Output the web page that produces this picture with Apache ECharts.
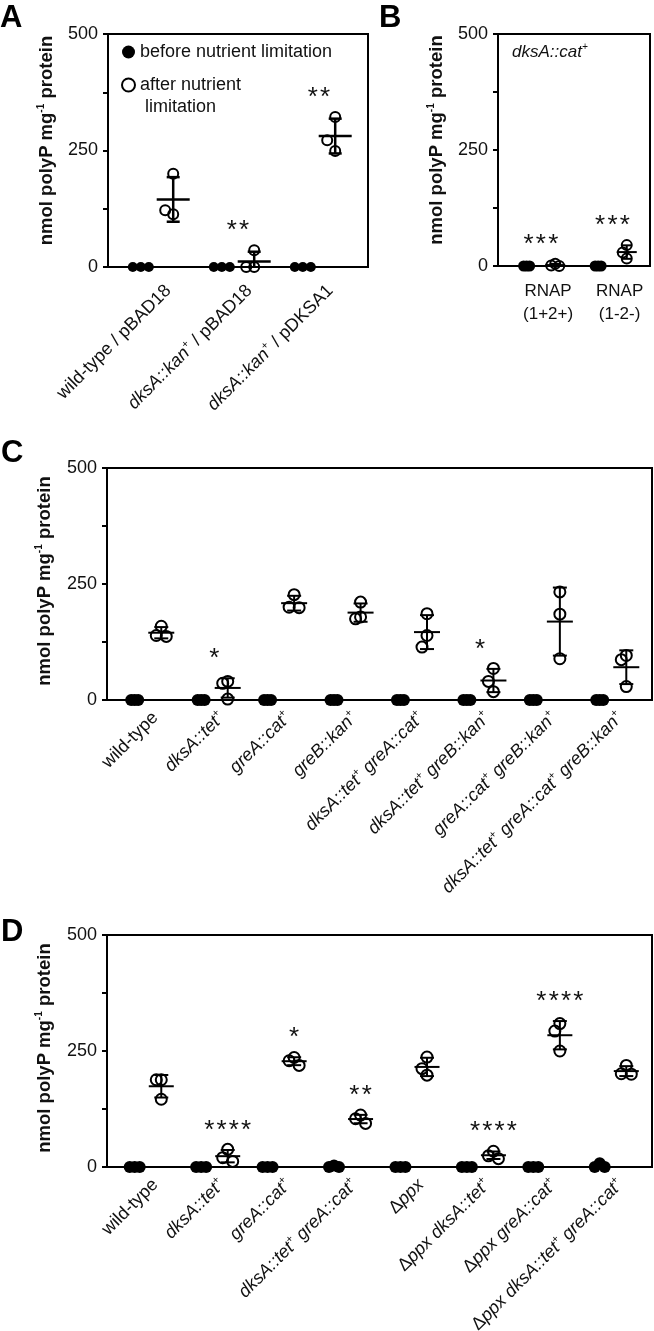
<!DOCTYPE html>
<html><head><meta charset="utf-8">
<script src="https://cdn.jsdelivr.net/npm/echarts@6/dist/echarts.min.js"></script>
<style>html,body{margin:0;padding:0;background:#fff}#c{width:654px;height:1331px}</style>
</head><body><div id="c"></div><script>
// ---------------- DATA ----------------
const yTickLabels = [0, 250, 500];

const aCategories = ['wild-type / pBAD18', 'dksA::kan+ / pBAD18', 'dksA::kan+ / pDKSA1'];
const aBefore = [[0, 0, 0], [0, 0, 0], [0, 0, 0]];
const aAfter  = [[200, 113, 122], [36, 0, 0], [322, 249, 272]];
const aSig    = ['', '**', '**'];

const bCategories = ['RNAP\n(1+2+)', 'RNAP\n(1-2-)'];
const bBefore = [[0, 0, 0], [0, 0, 0]];
const bAfter  = [[5, 1, 0], [45, 29, 16]];
const bSig    = ['***', '***'];

const cCategories = ['wild-type', 'dksA::tet+', 'greA::cat+', 'greB::kan+', 'dksA::tet+ greA::cat+',
  'dksA::tet+ greB::kan+', 'greA::cat+ greB::kan+', 'dksA::tet+ greA::cat+ greB::kan+'];
const cBefore = [[0,0,0],[0,0,0],[0,0,0],[0,0,0],[0,0,0],[0,0,0],[0,0,0],[0,0,0]];
const cAfter  = [[159, 139, 137], [40, 36, 2], [227, 200, 199], [211, 179, 175], [186, 139, 114],
  [68, 40, 18], [233, 185, 89], [96, 87, 29]];
const cSig    = ['', '*', '', '', '', '*', '', ''];

const dCategories = ['wild-type', 'dksA::tet+', 'greA::cat+', 'dksA::tet+ greA::cat+', 'Δppx',
  'Δppx dksA::tet+', 'Δppx greA::cat+', 'Δppx dksA::tet+ greA::cat+'];
const dBefore = [[0,0,0],[0,0,0],[0,0,0],[3,0,0],[0,0,0],[0,0,0],[0,0,0],[8,0,0]];
const dAfter  = [[188, 188, 146], [38, 20, 12], [236, 229, 219], [112, 104, 94], [237, 212, 198],
  [34, 24, 18], [309, 293, 250], [219, 201, 200]];
const dSig    = ['', '****', '*', '**', '', '****', '****', ''];

const seriesNames = ['before nutrient limitation', 'after nutrient limitation'];
const yTitle = 'nmol polyP mg{s|-1} protein';

// ---------------- LAYOUT ----------------
const FONT = 'Liberation Sans, Arial, Helvetica, sans-serif';
const INK = '#111';
const common = {labFont: 18, tickFont: 18, titleFont: 18.5, nameGap: 50, starFont: 26};
const panels = [
  Object.assign({}, common, {cats: aCategories, before: aBefore, after: aAfter, sig: aSig,
   grid: {left: 108, top: 34, width: 260, height: 233}, xmin: -0.605, xmax: 2.605, titleShift: 20,
   rotate: 45, labelShift: 0.14, labelMargin: 21,
   dot: 10, dotStep: 8, circ: 10, circStep: 8, meanW: 33, capW: 13, lw: 2.5, starShift: 0}),
  Object.assign({}, common, {cats: bCategories, before: bBefore, after: bAfter, sig: bSig,
   grid: {left: 498, top: 34, width: 152, height: 232}, xmin: -0.6, xmax: 1.525, titleShift: 20,
   rotate: 0, labelShift: 0.1, labelMargin: 14, labFont: 17,
   dot: 11, dotStep: 3, circ: 10, circStep: 4, meanW: 20, capW: 10, lw: 2, starShift: 0}),
  Object.assign({}, common, {cats: cCategories, before: cBefore, after: cAfter, sig: cSig,
   grid: {left: 107, top: 468, width: 545, height: 232}, xmin: -0.617, xmax: 7.587, titleShift: 6,
   rotate: 45, labelShift: 0.11, labelMargin: 15,
   dot: 12, dotStep: 3.5, circ: 11, circStep: 5, meanW: 26, capW: 14, lw: 2, starShift: 0}),
  Object.assign({}, common, {cats: dCategories, before: dBefore, after: dAfter, sig: dSig,
   grid: {left: 107, top: 935, width: 545, height: 232}, xmin: -0.617, xmax: 7.587, titleShift: 6,
   rotate: 45, labelShift: 0.11, labelMargin: 15,
   dot: 12, dotStep: 5, circ: 11, circStep: 5, meanW: 25, capW: 14, lw: 2, starShift: 0.2})
];
const SIDE = 0.2;

function jitter(vals, pxPerUnit, diam, step) {
  const placed = [];
  const order = [0, -1, 1, -2, 2];
  return vals.map(v => {
    const y = v * pxPerUnit;
    for (const k of order) {
      const ok = placed.every(p => p.k !== k || Math.abs(p.y - y) >= diam + 2);
      if (ok) { placed.push({k, y}); return k * step; }
    }
    return 0;
  });
}
function stats(vals) {
  const n = vals.length;
  const m = vals.reduce((a, b) => a + b, 0) / n;
  const sd = Math.sqrt(vals.reduce((a, b) => a + (b - m) * (b - m), 0) / (n - 1));
  return {m, sd};
}
function richLabel(s) {
  return s.split(' ').map(w => {
    if (w.includes('::')) {
      const plus = w.endsWith('+');
      const core = plus ? w.slice(0, -1) : w;
      return '{i|' + core + '}' + (plus ? '{s|+}' : '');
    }
    if (w.startsWith('Δ')) return '{n|Δ}{i|' + w.slice(1) + '}';
    return '{n|' + w + '}';
  }).join('{n| }');
}

const grids = [], xAxes = [], yAxes = [], series = [];
panels.forEach((P, gi) => {
  grids.push(Object.assign({show: true, borderColor: '#000', borderWidth: 2, containLabel: false,
    outerBoundsMode: 'none'}, P.grid));
  const F = P.labFont;
  xAxes.push({
    type: 'value', gridIndex: gi, min: P.xmin, max: P.xmax,
    axisLine: {show: false, onZero: false}, axisTick: {show: false}, splitLine: {show: false},
    axisLabel: {
      customValues: P.cats.map((_, k) => k + P.labelShift),
      formatter: v => {
        const s = P.cats[Math.round(v - P.labelShift)];
        return P.rotate ? richLabel(s) : s;
      },
      rotate: P.rotate, margin: P.labelMargin, color: INK, fontFamily: FONT, fontSize: F,
      lineHeight: P.rotate ? F * 1.2 : 23, align: P.rotate ? undefined : 'center',
      hideOverlap: false,
      rich: {
        n: {fontSize: F, fontStyle: 'normal', color: INK, fontFamily: FONT, lineHeight: F * 1.2},
        i: {fontSize: F, fontStyle: 'italic', color: INK, fontFamily: FONT, lineHeight: F * 1.2},
        s: {fontSize: F * 0.6, fontStyle: 'italic', color: INK, fontFamily: FONT, lineHeight: F * 0.6, verticalAlign: 'top'}
      }
    }
  });
  yAxes.push({
    type: 'value', gridIndex: gi, min: 0, max: 500, interval: 125,
    axisLine: {show: true, onZero: false, lineStyle: {color: '#000', width: 2}},
    axisTick: {show: true, length: 5, lineStyle: {color: '#000', width: 2}},
    splitLine: {show: false},
    axisLabel: {formatter: v => yTickLabels.includes(v) ? String(v) : '', color: INK, fontFamily: FONT,
      fontSize: P.tickFont, margin: 10, showMinLabel: true, showMaxLabel: true},
    name: yTitle, nameLocation: 'middle', nameGap: P.nameGap, nameRotate: 90,
    nameTextStyle: {fontSize: P.titleFont, fontWeight: 'bold', color: INK, fontFamily: FONT, lineHeight: P.titleFont * 1.2,
      padding: [0, 0, 0, P.titleShift],
      rich: {s: {fontSize: P.titleFont * 0.55, fontWeight: 'bold', color: INK, fontFamily: FONT,
        lineHeight: P.titleFont * 0.55, verticalAlign: 'top'}}}
  });
  const ppu = P.grid.height / 500;
  const beforeData = [], afterData = [], sumData = [];
  P.cats.forEach((_, g) => {
    const jb = jitter(P.before[g], ppu, P.dot, P.dotStep);
    P.before[g].forEach((v, k) => beforeData.push({value: [g - SIDE, v], symbolOffset: [jb[k], 0]}));
    const ja = jitter(P.after[g], ppu, P.circ, P.circStep);
    P.after[g].forEach((v, k) => afterData.push({value: [g + SIDE, v], symbolOffset: [ja[k], 0]}));
    const st = stats(P.after[g]);
    const top = Math.max(st.m + st.sd, ...P.after[g], ...P.before[g]);
    sumData.push({value: [g + SIDE, st.m, st.m - st.sd, st.m + st.sd, g + P.starShift, top]});
  });
  series.push({
    type: 'scatter', name: seriesNames[0], xAxisIndex: gi, yAxisIndex: gi, symbol: 'circle',
    symbolSize: P.dot, itemStyle: {color: '#000', opacity: 1}, data: beforeData, z: 3, silent: true, clip: false
  });
  series.push({
    type: 'scatter', name: seriesNames[1], xAxisIndex: gi, yAxisIndex: gi, symbol: 'circle',
    symbolSize: P.circ, itemStyle: {color: 'rgba(255,255,255,0)', borderColor: '#000', borderWidth: 2, opacity: 1},
    data: afterData, z: 4, silent: true, clip: false
  });
  series.push({
    type: 'custom', xAxisIndex: gi, yAxisIndex: gi, silent: true, z: 5, clip: false,
    data: sumData,
    renderItem: (params, api) => {
      const x = api.value(0), m = api.value(1), lo = api.value(2), hi = api.value(3);
      const sx = api.value(4), top = api.value(5);
      const cm = api.coord([x, m]);
      const ch = api.coord([x, hi]);
      const cl = api.coord([x, Math.max(lo, 0)]);
      const ls = {stroke: '#000', lineWidth: P.lw};
      const children = [
        {type: 'line', shape: {x1: cm[0] - P.meanW / 2, y1: cm[1], x2: cm[0] + P.meanW / 2, y2: cm[1]}, style: ls},
        {type: 'line', shape: {x1: cm[0], y1: ch[1], x2: cm[0], y2: cl[1]}, style: ls},
        {type: 'line', shape: {x1: cm[0] - P.capW / 2, y1: ch[1], x2: cm[0] + P.capW / 2, y2: ch[1]}, style: ls}
      ];
      if (lo >= 0) children.push({type: 'line', shape: {x1: cm[0] - P.capW / 2, y1: cl[1], x2: cm[0] + P.capW / 2, y2: cl[1]}, style: ls});
      const sig = P.sig[params.dataIndex];
      if (sig) {
        const cs = api.coord([sx, top]);
        children.push({type: 'text', style: {text: sig.split('').join('\u200A'), x: cs[0], y: cs[1] - 25 + 6,
          fill: INK, font: 'normal ' + P.starFont + 'px ' + FONT, textAlign: 'center', textVerticalAlign: 'middle'}});
      }
      return {type: 'group', children};
    }
  });
});

const chart = echarts.init(document.getElementById('c'), null, {renderer: 'canvas'});
const letter = {fontSize: 31, fontWeight: 'bold', color: '#000', fontFamily: FONT};
chart.setOption({
  animation: false,
  backgroundColor: '#fff',
  title: [
    {text: 'A', left: 0, top: 3, padding: 0, textStyle: letter},
    {text: 'B', left: 379, top: 3, padding: 0, textStyle: letter},
    {text: 'C', left: 1, top: 438, padding: 0, textStyle: letter},
    {text: 'D', left: 1, top: 917, padding: 0, textStyle: letter},
    {text: '{i|dksA::cat}{s|+}', left: 512, top: 42, padding: 0,
     textStyle: {fontSize: 17, fontWeight: 'normal', color: INK, fontFamily: FONT,
       rich: {i: {fontSize: 17, fontStyle: 'italic', fontWeight: 'normal', color: INK, fontFamily: FONT, lineHeight: 20},
              s: {fontSize: 10, fontStyle: 'italic', fontWeight: 'normal', color: INK, fontFamily: FONT, lineHeight: 10, verticalAlign: 'top'}}}}
  ],
  legend: {
    orient: 'vertical', left: 121, top: 41, itemWidth: 13, itemHeight: 13, itemGap: -11, padding: 0,
    selectedMode: false,
    textStyle: {fontSize: 18, color: INK, fontFamily: FONT, lineHeight: 22},
    data: [{name: seriesNames[0]}, {name: seriesNames[1]}],
    formatter: n => n === seriesNames[1] ? '\nafter nutrient\n limitation' : n
  },
  grid: grids, xAxis: xAxes, yAxis: yAxes, series
});
</script></body></html>
